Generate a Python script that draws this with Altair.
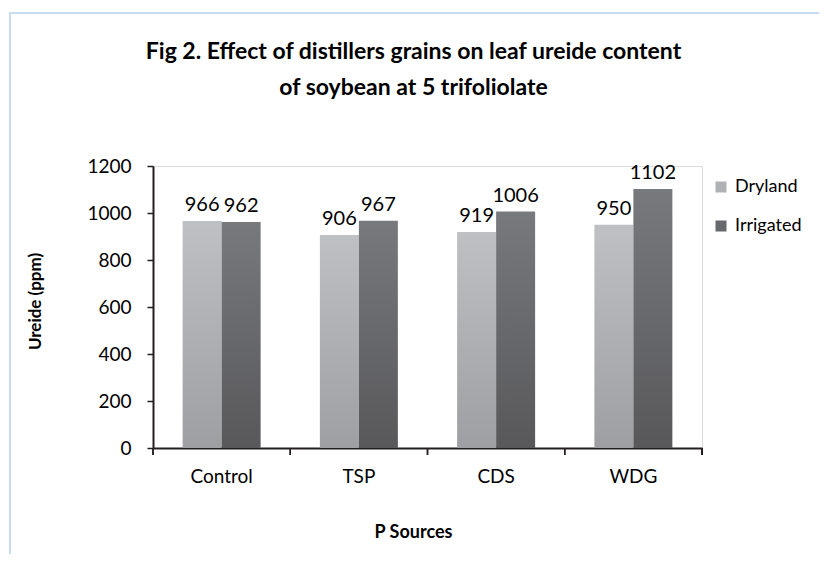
import altair as alt
import pandas as pd

categories = ["Control", "TSP", "CDS", "WDG"]
series = ["Dryland", "Irrigated"]
dryland = [966, 906, 919, 950]
irrigated = [962, 967, 1006, 1102]
y_ticks = [0, 200, 400, 600, 800, 1000, 1200]

rows = []
for i, c in enumerate(categories):
    rows.append({"source": c, "series": series[0], "value": dryland[i]})
    rows.append({"source": c, "series": series[1], "value": irrigated[i]})
df = pd.DataFrame(rows)

W, H = 549, 282
FONT = "Lato"
AX = "#231f20"

grad_dry = {"gradient": "linear", "x1": 0, "y1": 0, "x2": 0, "y2": 1,
            "stops": [{"offset": 0, "color": "#bfc0c4"}, {"offset": 1, "color": "#9e9fa2"}]}
grad_irr = {"gradient": "linear", "x1": 0, "y1": 0, "x2": 0, "y2": 1,
            "stops": [{"offset": 0, "color": "#78797d"}, {"offset": 1, "color": "#58585b"}]}

x_enc = alt.X("source:N", sort=categories,
              scale=alt.Scale(paddingInner=0, paddingOuter=0),
              axis=alt.Axis(title="P Sources", ticks=False, labelAngle=0,
                            labelPadding=19, labelFont=FONT, labelFontSize=19,
                            labelFontWeight="normal",
                            labelColor="#000", titleFont=FONT, titleFontSize=18,
                            titleFontWeight="bold", titleColor="#000",
                            titleBaseline="alphabetic", titleX=260, titleY=89,
                            titleAnchor="start", titleAlign="center",
                            domainColor=AX, domainWidth=2))
xo_enc = alt.XOffset("series:N", sort=series,
                     scale=alt.Scale(paddingInner=0, paddingOuter=0.76))
y_enc = alt.Y("value:Q", scale=alt.Scale(domain=[0, 1200]),
              axis=alt.Axis(title="Ureide (ppm)", values=y_ticks, grid=False, format="d",
                            tickSize=6, tickColor=AX, tickWidth=1.5,
                            labelPadding=16, labelFont=FONT, labelFontSize=19,
                            labelFontWeight="normal",
                            labelColor="#000", titleFont=FONT, titleFontSize=17,
                            titleFontWeight="bold", titleColor="#000",
                            titleBaseline="alphabetic", titleAngle=270,
                            titleX=-113, titleY=135, titleAlign="center",
                            domainColor=AX, domainWidth=2))

bars = alt.Chart(df).mark_bar().encode(
    x=x_enc, xOffset=xo_enc, y=y_enc,
    fill=alt.condition(alt.datum.series == "Dryland", alt.value(grad_dry), alt.value(grad_irr)),
)

legend_layer = alt.Chart(df).mark_square(size=0, opacity=1).encode(
    x=x_enc, xOffset=xo_enc, y=y_enc,
    color=alt.Color("series:N", sort=series,
                    scale=alt.Scale(domain=series, range=["#b0b1b4", "#68696c"]),
                    legend=alt.Legend(title=None, orient="none", legendX=559, legendY=12,
                                      symbolType="square", symbolSize=121,
                                      symbolStrokeWidth=0, symbolOpacity=1,
                                      labelFont=FONT, labelFontSize=18, labelColor="#000",
                                      labelOffset=5, rowPadding=21, padding=0)),
)

labels = alt.Chart(df).mark_text(font=FONT, fontSize=20, baseline="alphabetic",
                                 dy=-10, color="#000").encode(
    x=x_enc, xOffset=xo_enc, y=y_enc, text="value:Q")

ticks = alt.Chart(df).mark_rule(color=AX, strokeWidth=1.5).encode(
    x=alt.X("source:N", sort=categories, bandPosition=0),
    y=alt.value(H), y2=alt.value(H + 7))

end_tick = alt.Chart(df).mark_rule(color=AX, strokeWidth=1.5).encode(
    x=alt.value(W), y=alt.value(H), y2=alt.value(H + 7))

frame = alt.Chart(df).mark_rect(filled=False, stroke="#cadcf2", strokeWidth=2).encode(
    x=alt.value(10 - 153), y=alt.value(13 - 166), x2=alt.value(900), y2=alt.value(600))

chart = alt.layer(frame, bars, legend_layer, labels, ticks, end_tick).properties(
    width=W, height=H,
    autosize=alt.AutoSizeParams(type="none"),
    padding={"left": 145, "top": 158, "right": 117, "bottom": 106},
    title=alt.TitleParams(
        ["Fig 2. Effect of distillers grains on leaf ureide content",
         "of soybean at 5 trifoliolate"],
        font=FONT, fontSize=23, fontWeight="bold", color="#000",
        anchor="middle", frame="group", dx=-14, offset=-88, lineHeight=36),
).configure_view(stroke=None).configure(background="white")

chart.save("out.html", embed_options={"renderer": "svg", "actions": False})
